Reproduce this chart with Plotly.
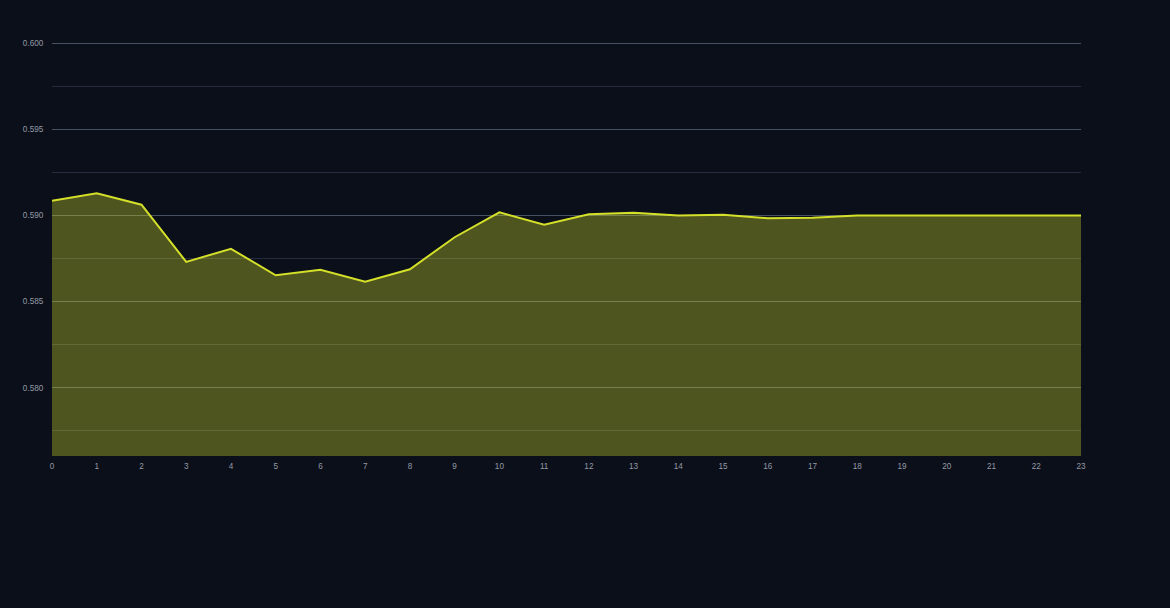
import plotly.graph_objects as go

hours = list(range(24))
values = [0.59086, 0.59130, 0.59063, 0.58731, 0.58807, 0.58653, 0.58685, 0.58615,
          0.58688, 0.58874, 0.59019, 0.58947, 0.59008, 0.59016, 0.59000, 0.59005,
          0.58984, 0.58987, 0.59000, 0.59000, 0.59000, 0.59000, 0.59000, 0.59000]

fig = go.Figure()
fig.add_trace(go.Scatter(
    x=hours, y=values, mode="lines",
    line=dict(color="#d4e02a", width=2),
    fill="tozeroy", fillcolor="rgba(212,224,42,0.34)",
    hoverinfo="x+y", showlegend=False,
))

fig.update_layout(
    width=1170, height=608,
    paper_bgcolor="#0b0f1a", plot_bgcolor="#0b0f1a",
    margin=dict(l=52, r=89, t=40, b=152),
    font=dict(family="Liberation Sans, Arial, sans-serif", size=8.2, color="#949aa5"),
    xaxis=dict(range=[0, 23], dtick=1, tick0=0, showgrid=False, zeroline=False,
               showline=False, ticks="outside", ticklen=2, tickcolor="rgba(0,0,0,0)"),
    yaxis=dict(range=[0.57603, 0.6002], dtick=0.005, tick0=0.58, tickformat=".3f",
               showgrid=True, gridcolor="rgba(120,135,155,0.55)", gridwidth=1,
               minor=dict(dtick=0.0025, tick0=0.5775, showgrid=True,
                          gridcolor="rgba(90,100,130,0.35)", gridwidth=1),
               zeroline=False, showline=False,
               ticks="outside", ticklen=6, tickcolor="rgba(0,0,0,0)"),
)

fig.write_html("out.html", config={"displayModeBar": False},
               post_script="document.body.style.margin='0';document.body.style.background='#0b0f1a';")
